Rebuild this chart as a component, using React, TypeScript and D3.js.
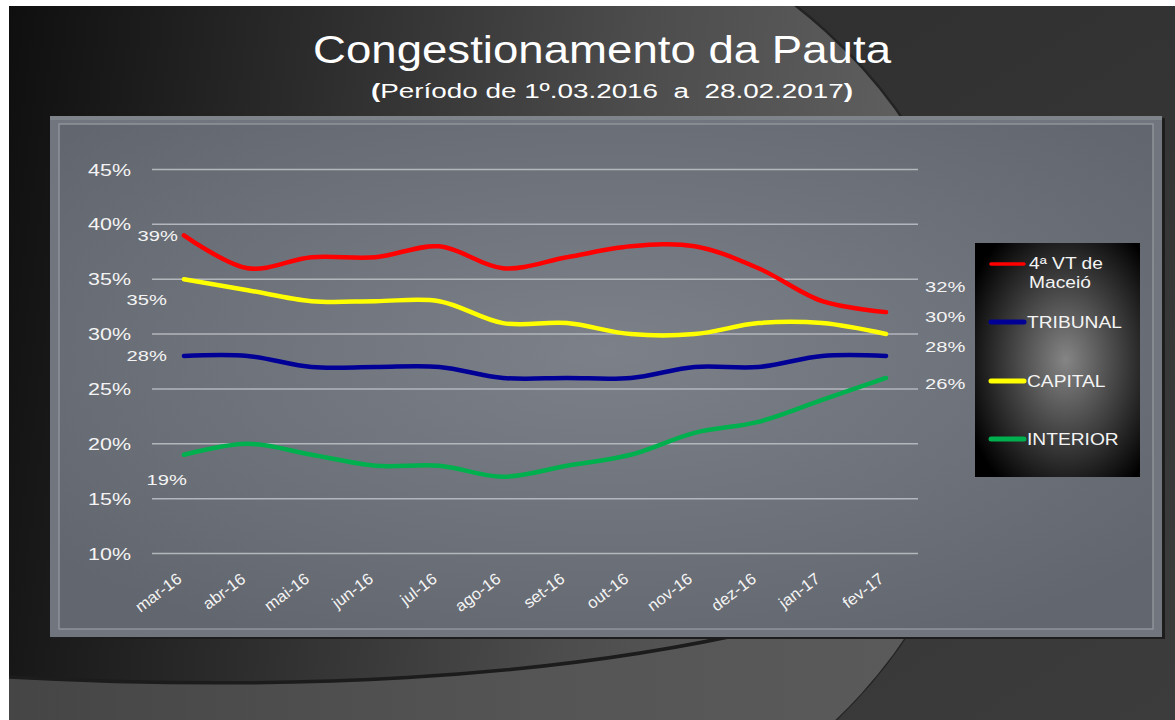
import React, { useEffect, useRef } from "react";
import * as d3 from "d3";

const W = 1175;
const H = 720;
const FONT = "'Liberation Sans', Arial, sans-serif";

// data
const months = [
  "mar-16", "abr-16", "mai-16", "jun-16", "jul-16", "ago-16",
  "set-16", "out-16", "nov-16", "dez-16", "jan-17", "fev-17",
];
const vtMaceio = [39, 36, 37, 37, 38, 36, 37, 38, 38, 36, 33, 32];
const tribunal = [28, 28, 27, 27, 27, 26, 26, 26, 27, 27, 28, 28];
const capital = [35, 34, 33, 33, 33, 31, 31, 30, 30, 31, 31, 30];
const interior = [19, 20, 19, 18, 18, 17, 18, 19, 21, 22, 24, 26];
const yTicks = [10, 15, 20, 25, 30, 35, 40, 45];

const PLOT = { LEFT: 152, RIGHT: 918, TOP: 169.5, BOTTOM: 553.5 };

export default function App() {
  const ref = useRef<SVGSVGElement>(null);

  useEffect(() => {
    const svg = d3.select(ref.current);
    svg.selectAll("*").remove();
    const defs = svg.append("defs");

    // ---------- background ----------
    const bgOut = defs.append("linearGradient").attr("id", "bgOut")
      .attr("x1", 0).attr("y1", 0).attr("x2", 1).attr("y2", 1);
    bgOut.append("stop").attr("offset", "0%").attr("stop-color", "#2a2a2a");
    bgOut.append("stop").attr("offset", "100%").attr("stop-color", "#3c3c3c");

    const bgIn = defs.append("linearGradient").attr("id", "bgIn")
      .attr("gradientUnits", "userSpaceOnUse")
      .attr("x1", 0).attr("y1", 0).attr("x2", 900).attr("y2", 120);
    bgIn.append("stop").attr("offset", "0%").attr("stop-color", "#0e0e0e");
    bgIn.append("stop").attr("offset", "35%").attr("stop-color", "#2c2c2c");
    bgIn.append("stop").attr("offset", "70%").attr("stop-color", "#4c4c4c");
    bgIn.append("stop").attr("offset", "100%").attr("stop-color", "#5e5e5e");

    const bgLow = defs.append("linearGradient").attr("id", "bgLow")
      .attr("gradientUnits", "userSpaceOnUse")
      .attr("x1", 0).attr("y1", 0).attr("x2", 900).attr("y2", 0);
    bgLow.append("stop").attr("offset", "0%").attr("stop-color", "#454545");
    bgLow.append("stop").attr("offset", "60%").attr("stop-color", "#555555");
    bgLow.append("stop").attr("offset", "100%").attr("stop-color", "#5a5a5a");

    defs.append("clipPath").attr("id", "area")
      .append("rect").attr("x", 9).attr("y", 6).attr("width", W - 9).attr("height", H - 6);
    const lensClip = defs.append("clipPath").attr("id", "lens");
    lensClip.append("ellipse").attr("cx", 440).attr("cy", 380).attr("rx", 545).attr("ry", 494);
    lensClip.append("rect").attr("x", 0).attr("y", 0).attr("width", 440).attr("height", H);
    defs.append("clipPath").attr("id", "rightHalf")
      .append("rect").attr("x", 440).attr("y", 0).attr("width", W).attr("height", H);

    svg.append("rect").attr("width", W).attr("height", H).attr("fill", "#ffffff");
    svg.append("rect").attr("x", 9).attr("y", 6).attr("width", W - 9).attr("height", H - 6)
      .attr("fill", "url(#bgOut)");

    const area = svg.append("g").attr("clip-path", "url(#area)");
    area.append("rect").attr("x", 0).attr("y", 0).attr("width", W).attr("height", H)
      .attr("fill", "url(#bgIn)").attr("clip-path", "url(#lens)");
    area.append("ellipse").attr("cx", 440).attr("cy", 380).attr("rx", 545).attr("ry", 494)
      .attr("fill", "none").attr("stroke", "#232323").attr("stroke-width", 2.5)
      .attr("clip-path", "url(#rightHalf)");

    const lens = area.append("g").attr("clip-path", "url(#lens)");
    const curve = "M 9,677 C 250,690 560,686 820,615";
    lens.append("path").attr("d", curve + " L 1000,615 L 1000,720 L 9,720 Z").attr("fill", "url(#bgLow)");
    lens.append("path").attr("d", curve).attr("fill", "none")
      .attr("stroke", "#1c1c1c").attr("stroke-width", 3.5);

    // ---------- panel ----------
    const panelIn = defs.append("radialGradient").attr("id", "panelIn")
      .attr("cx", "50%").attr("cy", "45%").attr("r", "65%");
    panelIn.append("stop").attr("offset", "0%").attr("stop-color", "#7c8088");
    panelIn.append("stop").attr("offset", "100%").attr("stop-color", "#62666e");

    svg.append("rect").attr("x", 52).attr("y", 118).attr("width", 1113).attr("height", 521)
      .attr("fill", "#1d1d1d");
    svg.append("rect").attr("x", 50).attr("y", 116).attr("width", 1112).attr("height", 521)
      .attr("fill", "#71757d");
    svg.append("rect").attr("x", 50).attr("y", 116).attr("width", 1112).attr("height", 4)
      .attr("fill", "#7f848b");
    svg.append("rect").attr("x", 59).attr("y", 124).attr("width", 1094).attr("height", 505)
      .attr("fill", "url(#panelIn)").attr("stroke", "#8f949b").attr("stroke-width", 1.5);

    // ---------- chart ----------
    const x = d3.scaleBand().domain(months).range([PLOT.LEFT, PLOT.RIGHT]);
    const cx = (m: string) => (x(m) as number) + x.bandwidth() / 2;
    const y = d3.scaleLinear().domain([10, 45]).range([PLOT.BOTTOM, PLOT.TOP]);

    // slide text looks horizontally stretched, so scale x a bit
    const txt = (
      g: any, px: number, py: number, s: string, size: number,
      anchor = "start", sx = 1.2, rot = 0
    ) =>
      g.append("text")
        .attr("transform", `translate(${px},${py}) rotate(${rot}) scale(${sx},1)`)
        .attr("font-family", FONT).attr("font-size", size)
        .attr("text-anchor", anchor).attr("fill", "#f4f4f4")
        .style("white-space", "pre")
        .text(s);

    const chart = svg.append("g");
    chart.selectAll("line.grid").data(yTicks).enter().append("line")
      .attr("x1", PLOT.LEFT).attr("x2", PLOT.RIGHT)
      .attr("y1", (d) => y(d)).attr("y2", (d) => y(d))
      .attr("stroke", "#b3b7bd").attr("stroke-width", 1.5);

    yTicks.forEach((t) => txt(chart, 131, y(t) + 6, `${t}%`, 16.5, "end", 1.3));
    months.forEach((m) => txt(chart, cx(m) - 1, 581, m, 16, "end", 1.05, -37));

    const series = [
      { name: "4ª VT de Maceió", values: vtMaceio, color: "#ff0000" },
      { name: "TRIBUNAL", values: tribunal, color: "#000096" },
      { name: "CAPITAL", values: capital, color: "#ffff00" },
      { name: "INTERIOR", values: interior, color: "#00b04f" },
    ];

    const line = d3.line<number>()
      .x((_, i) => cx(months[i]))
      .y((d) => y(d))
      .curve(d3.curveCatmullRom.alpha(0.5));

    [series[3], series[1], series[2], series[0]].forEach((s) =>
      chart.append("path").attr("d", line(s.values))
        .attr("fill", "none").attr("stroke", s.color)
        .attr("stroke-width", 4.5).attr("stroke-linecap", "round")
    );

    // data labels (first / last points)
    const x0 = cx(months[0]);
    const firstOff = [
      [-6, 6],
      [-17, 5],
      [-17, 26],
      [3, 30],
    ];
    const lastOff = [-20, -4, -12, 11];
    series.forEach((s, i) => {
      const v0 = s.values[0];
      txt(chart, x0 + firstOff[i][0], y(v0) + firstOff[i][1], `${v0}%`, 15.5, "end", 1.3);
      const vn = s.values[s.values.length - 1];
      txt(chart, 925, y(vn) + lastOff[i], `${vn}%`, 15.5, "start", 1.3);
    });

    // ---------- legend ----------
    const lg = defs.append("radialGradient").attr("id", "legendBg")
      .attr("cx", "55%").attr("cy", "50%").attr("r", "65%");
    lg.append("stop").attr("offset", "0%").attr("stop-color", "#858585");
    lg.append("stop").attr("offset", "100%").attr("stop-color", "#000000");

    const legend = svg.append("g");
    legend.append("rect").attr("x", 975).attr("y", 243).attr("width", 165).attr("height", 234)
      .attr("fill", "url(#legendBg)");
    const legendY = [264, 322, 381, 439];
    series.forEach((s, i) => {
      legend.append("line").attr("x1", 991).attr("x2", 1024)
        .attr("y1", legendY[i]).attr("y2", legendY[i])
        .attr("stroke", s.color).attr("stroke-width", i === 0 ? 3.5 : 5)
        .attr("stroke-linecap", "round");
      if (i === 0) {
        txt(legend, 1029, legendY[i] + 5, "4ª VT de", 16, "start", 1.2);
        txt(legend, 1029, legendY[i] + 24, "Maceió", 16, "start", 1.2);
      } else {
        txt(legend, 1027, legendY[i] + 6, s.name, 16, "start", 1.2);
      }
    });

    // ---------- title ----------
    svg.append("text").attr("x", 602).attr("y", 63)
      .attr("text-anchor", "middle").attr("font-family", FONT).attr("font-size", 39)
      .attr("fill", "#ffffff").attr("textLength", 578).attr("lengthAdjust", "spacingAndGlyphs")
      .text("Congestionamento da Pauta");
    const sub = svg.append("text").attr("x", 612).attr("y", 98)
      .attr("text-anchor", "middle").attr("font-family", FONT).attr("font-size", 20)
      .attr("fill", "#ffffff").attr("textLength", 482).attr("lengthAdjust", "spacingAndGlyphs")
      .style("white-space", "pre");
    sub.append("tspan").attr("font-weight", "bold").text("(");
    sub.append("tspan").text("Período de 1º.03.2016  a  28.02.2017");
    sub.append("tspan").attr("font-weight", "bold").text(")");
  }, []);

  return (
    <svg
      ref={ref}
      width={W}
      height={H}
      style={{ position: "absolute", left: 0, top: 0, display: "block" }}
    />
  );
}
